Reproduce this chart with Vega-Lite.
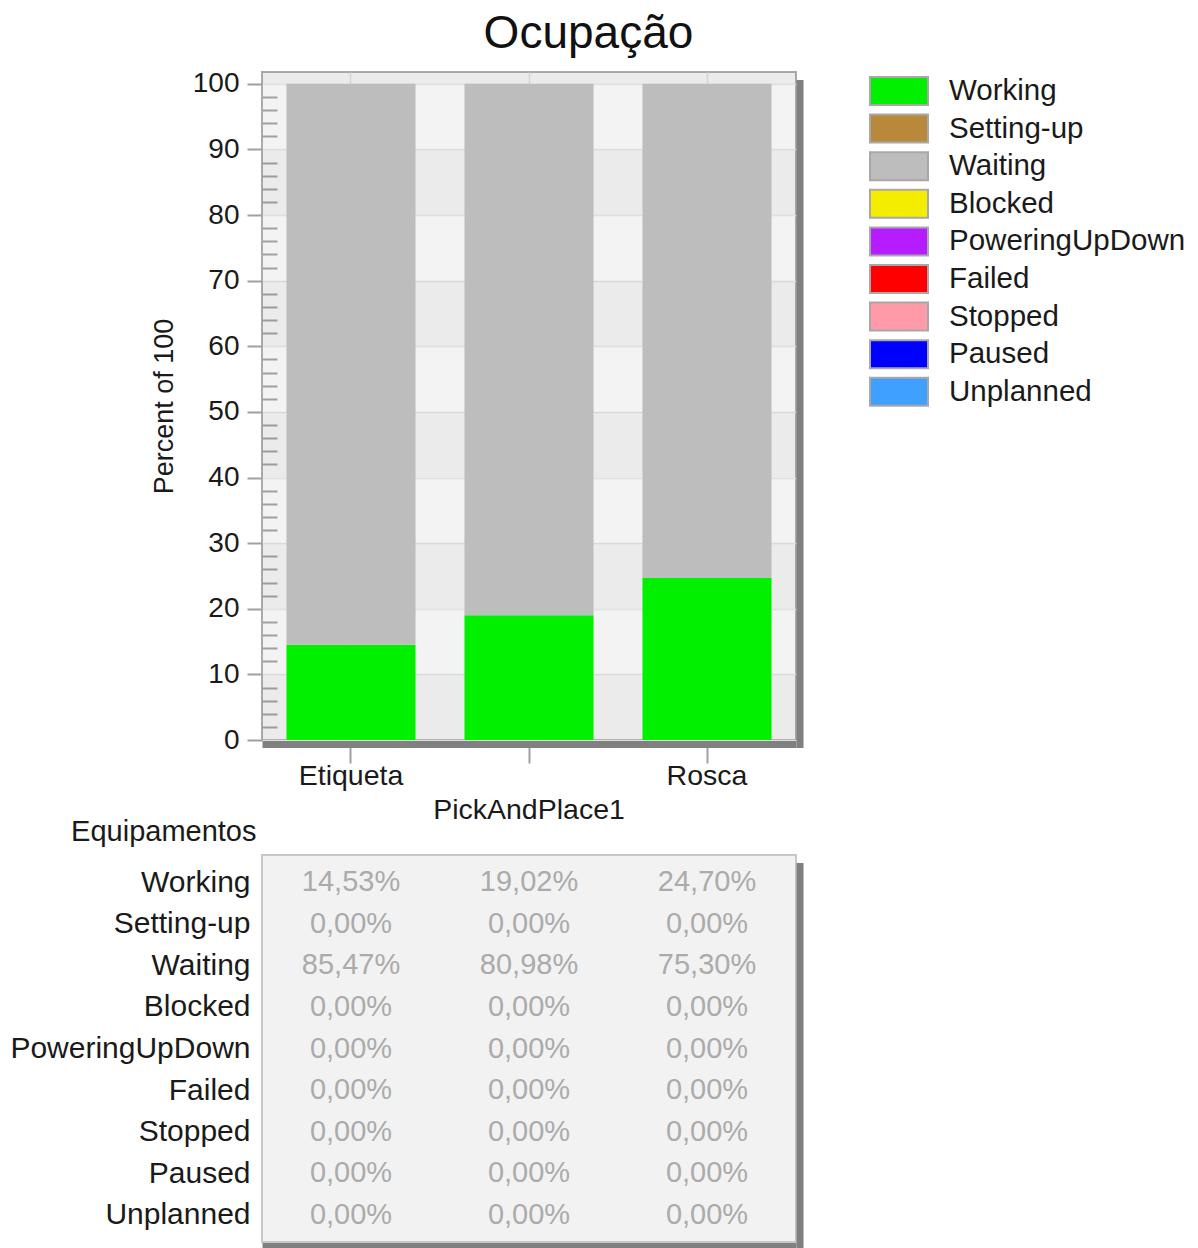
{
  "$schema": "https://vega.github.io/schema/vega-lite/v6.json",
  "padding": {"left": 8, "top": 10, "right": 5, "bottom": 5},
  "title": {"text": "Ocupação", "fontSize": 46, "fontWeight": "normal", "font": "Liberation Sans", "color": "#111111", "anchor": "middle", "frame": "bounds", "offset": 11, "dx": -11},
  "config": {
    "font": "Liberation Sans",
    "axis": {"labelFont": "Liberation Sans", "titleFont": "Liberation Sans", "labelColor": "#1a1a1a", "titleColor": "#1a1a1a", "titleFontWeight": "normal"},
    "legend": {"labelFont": "Liberation Sans"},
    "concat": {"spacing": 115}
  },
  "datasets": {
    "occ": [
      {"equip": "Etiqueta", "state": "Working", "pct": 14.53},
      {"equip": "Etiqueta", "state": "Setting-up", "pct": 0},
      {"equip": "Etiqueta", "state": "Waiting", "pct": 85.47},
      {"equip": "Etiqueta", "state": "Blocked", "pct": 0},
      {"equip": "Etiqueta", "state": "PoweringUpDown", "pct": 0},
      {"equip": "Etiqueta", "state": "Failed", "pct": 0},
      {"equip": "Etiqueta", "state": "Stopped", "pct": 0},
      {"equip": "Etiqueta", "state": "Paused", "pct": 0},
      {"equip": "Etiqueta", "state": "Unplanned", "pct": 0},
      {"equip": "PickAndPlace1", "state": "Working", "pct": 19.02},
      {"equip": "PickAndPlace1", "state": "Setting-up", "pct": 0},
      {"equip": "PickAndPlace1", "state": "Waiting", "pct": 80.98},
      {"equip": "PickAndPlace1", "state": "Blocked", "pct": 0},
      {"equip": "PickAndPlace1", "state": "PoweringUpDown", "pct": 0},
      {"equip": "PickAndPlace1", "state": "Failed", "pct": 0},
      {"equip": "PickAndPlace1", "state": "Stopped", "pct": 0},
      {"equip": "PickAndPlace1", "state": "Paused", "pct": 0},
      {"equip": "PickAndPlace1", "state": "Unplanned", "pct": 0},
      {"equip": "Rosca", "state": "Working", "pct": 24.70},
      {"equip": "Rosca", "state": "Setting-up", "pct": 0},
      {"equip": "Rosca", "state": "Waiting", "pct": 75.30},
      {"equip": "Rosca", "state": "Blocked", "pct": 0},
      {"equip": "Rosca", "state": "PoweringUpDown", "pct": 0},
      {"equip": "Rosca", "state": "Failed", "pct": 0},
      {"equip": "Rosca", "state": "Stopped", "pct": 0},
      {"equip": "Rosca", "state": "Paused", "pct": 0},
      {"equip": "Rosca", "state": "Unplanned", "pct": 0}
    ],
    "bands": [
      {"lo": 0, "hi": 10},
      {"lo": 20, "hi": 30},
      {"lo": 40, "hi": 50},
      {"lo": 60, "hi": 70},
      {"lo": 80, "hi": 90},
      {"lo": 100, "hi": 101.8}
    ]
  },
  "vconcat": [
    {
      "width": 534,
      "height": 668,
      "view": {"fill": "#f3f3f3", "stroke": "#ababab", "strokeWidth": 2},
      "layer": [
        {
          "data": {"name": "bands"},
          "mark": {"type": "rect", "color": "#000000", "opacity": 0.03},
          "encoding": {
            "y": {"field": "lo", "type": "quantitative", "scale": {"domain": [0, 101.8], "nice": false, "zero": true},
                  "axis": {"orient": "right", "domain": true, "domainColor": "#808080", "domainWidth": 7, "ticks": false, "labels": false, "grid": false, "title": null, "offset": -4, "translate": 8}},
            "y2": {"field": "hi"}
          }
        },
        {
          "data": {"name": "occ"},
          "mark": {"type": "bar"},
          "encoding": {
            "x": {"field": "equip", "type": "nominal", "sort": ["Etiqueta", "PickAndPlace1", "Rosca"],
                  "scale": {"type": "band", "paddingInner": 0.275, "paddingOuter": 0.1375},
                  "axis": {"title": null, "orient": "bottom", "labelAngle": 0, "labelFontSize": 28.5, "labelPadding": -2, "labelLineHeight": 34, "labelLimit": 400,
                           "labelExpr": "datum.label === 'PickAndPlace1' ? ['', datum.label] : datum.label",
                           "domain": true, "domainColor": "#808080", "domainWidth": 7, "offset": 4,
                           "ticks": true, "tickSize": 19, "tickColor": "#a0a0a0", "tickWidth": 2,
                           "grid": true, "gridColor": "#dcdcdc", "gridWidth": 1.5}},
            "y": {"field": "pct", "type": "quantitative", "stack": "zero",
                  "scale": {"domain": [0, 101.8], "nice": false, "zero": true},
                  "axis": {"orient": "left", "title": "Percent of 100", "titleFontSize": 27, "titlePadding": 14,
                           "values": [0,2,4,6,8,10,12,14,16,18,20,22,24,26,28,30,32,34,36,38,40,42,44,46,48,50,52,54,56,58,60,62,64,66,68,70,72,74,76,78,80,82,84,86,88,90,92,94,96,98,100],
                           "labelExpr": "datum.value % 10 === 0 ? datum.label : ''",
                           "labelFontSize": 28, "labelPadding": 8,
                           "tickSize": {"condition": {"test": "datum.value % 10 === 0", "value": 15}, "value": -15},
                           "tickColor": "#a0a0a0", "tickWidth": 2,
                           "domain": false,
                           "grid": true, "gridColor": "#e0e0e0", "gridWidth": 1.5,
                           "gridOpacity": {"condition": {"test": "datum.value % 10 === 0", "value": 1}, "value": 0}}},
            "color": {"field": "state", "type": "nominal",
                      "sort": ["Working", "Setting-up", "Waiting", "Blocked", "PoweringUpDown", "Failed", "Stopped", "Paused", "Unplanned"],
                      "scale": {"domain": ["Working", "Setting-up", "Waiting", "Blocked", "PoweringUpDown", "Failed", "Stopped", "Paused", "Unplanned"],
                                "range": ["#00f000", "#b8893a", "#bdbdbd", "#f5ed00", "#b51cff", "#ff0000", "#ff9aa8", "#0000ff", "#3fa0ff"]},
                      "legend": {"title": null, "orient": "right", "offset": 68, "padding": 4, "symbolType": "M-1,-1H3.143V1H-1Z", "symbolSize": 784,
                                 "symbolStrokeColor": "#a8a8a8", "symbolStrokeWidth": 2, "symbolOpacity": 1,
                                 "labelFontSize": 29.5, "labelColor": "#1a1a1a", "labelOffset": 50, "rowPadding": 1.6, "labelLimit": 400}}
          }
        }
      ],
      "resolve": {"axis": {"y": "independent"}}
    },
    {
      "width": 534,
      "height": 387,
      "view": {"fill": "#f2f2f2", "stroke": "#c8c8c8", "strokeWidth": 2},
      "data": {"name": "occ"},
      "layer": [
        {
          "mark": {"type": "text", "fontSize": 29, "color": "#ababab", "text": {"expr": "replace(format(datum.pct, '.2f'), '.', ',') + '%'"}},
          "encoding": {
            "x": {"field": "equip", "type": "nominal", "sort": ["Etiqueta", "PickAndPlace1", "Rosca"],
                  "scale": {"type": "band", "paddingInner": 0.275, "paddingOuter": 0.1375},
                  "axis": {"title": null, "orient": "bottom", "labels": false, "ticks": false, "grid": false, "domain": true, "domainColor": "#808080", "domainWidth": 7, "offset": 4}},
            "y": {"field": "state", "type": "nominal",
                  "sort": ["Working", "Setting-up", "Waiting", "Blocked", "PoweringUpDown", "Failed", "Stopped", "Paused", "Unplanned"],
                  "scale": {"type": "point", "padding": 0.66},
                  "axis": {"orient": "left", "title": "Equipamentos", "titleAngle": 0, "titleAlign": "right", "titleBaseline": "middle", "titleX": -6, "titleY": -24, "titleFontSize": 29,
                           "labelFontSize": 30, "labelPadding": 12, "ticks": false, "domain": false, "grid": false, "labelLimit": 400}}
          }
        },
        {
          "mark": {"type": "text", "opacity": 0, "text": {"expr": "datum.state"}},
          "encoding": {
            "y": {"field": "state", "type": "nominal",
                  "sort": ["Working", "Setting-up", "Waiting", "Blocked", "PoweringUpDown", "Failed", "Stopped", "Paused", "Unplanned"],
                  "scale": {"type": "point", "padding": 0.66},
                  "axis": {"orient": "right", "title": null, "labels": false, "ticks": false, "grid": false, "domain": true, "domainColor": "#808080", "domainWidth": 7, "offset": -4, "translate": 8}}
          }
        }
      ],
      "resolve": {"axis": {"y": "independent"}}
    }
  ],
  "bounds": "flush"
}
